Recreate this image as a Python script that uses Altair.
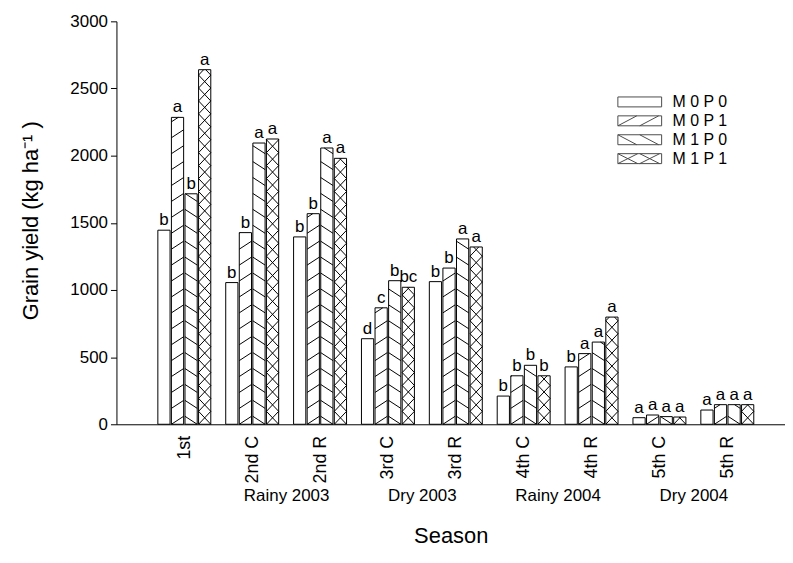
import json
import altair as alt
import pandas as pd

# ---------------- data ----------------
seasons = ["1st", "2nd C", "2nd R", "3rd C", "3rd R", "4th C", "4th R", "5th C", "5th R"]
season_groups = ["Rainy 2003", "Dry 2003", "Rainy 2004", "Dry 2004"]
treatments = ["M 0 P 0", "M 0 P 1", "M 1 P 0", "M 1 P 1"]

m0p0 = [1445, 1055, 1395, 637, 1062, 210, 427, 49, 106]
m0p1 = [2285, 1427, 1568, 867, 1163, 361, 526, 69, 146]
m1p0 = [1716, 2094, 2057, 1069, 1380, 439, 612, 57, 146]
m1p1 = [2640, 2124, 1980, 1020, 1320, 361, 798, 54, 146]

let_m0p0 = ["b", "b", "b", "d", "b", "b", "b", "a", "a"]
let_m0p1 = ["a", "b", "b", "c", "b", "b", "a", "a", "a"]
let_m1p0 = ["b", "a", "a", "b", "a", "b", "a", "a", "a"]
let_m1p1 = ["a", "a", "a", "bc", "a", "b", "a", "a", "a"]

values = [m0p0, m0p1, m1p0, m1p1]
letters = [let_m0p0, let_m0p1, let_m1p0, let_m1p1]

# ---------------- geometry / style ----------------
FONT = "Liberation Sans, Arial, Helvetica, sans-serif"
W, H = 672, 405
XDOM = [-1, 8.85]
YDOM = [0, 3000]
UPX = (YDOM[1] - YDOM[0]) / H          # data units per pixel (y)
PITCH, BARW = 0.2, 0.18                 # bar pitch / width in group units

# hatch definitions: (spacing px, rise px, up?)
hatch_def = {
    "M 0 P 0": [],
    "M 0 P 1": [(16, 8, True)],
    "M 1 P 0": [(16, 8, False)],
    "M 1 P 1": [(13, 13, True), (13, 13, False)],
}


def hatch(L, R, v, sp_px, ri_px, up):
    sp = sp_px * UPX
    ri = ri_px * UPX
    rows = []
    k = -int(ri // sp) - 1
    while k * sp <= v:
        y0 = k * sp
        if up:
            ta = max(0.0, -y0 / ri)
            tb = min(1.0, (v - y0) / ri)
            ya, yb = y0 + ta * ri, y0 + tb * ri
        else:
            ta = max(0.0, 1 - (v - y0) / ri)
            tb = min(1.0, 1 + y0 / ri)
            ya, yb = y0 + ri * (1 - ta), y0 + ri * (1 - tb)
        if tb - ta > 1e-6:
            rows.append(dict(x=L + ta * (R - L), y=ya, x2=L + tb * (R - L), y2=yb))
        k += 1
    return rows


bar_rows, hatch_rows = [], []
for g, season in enumerate(seasons):
    for s, tr in enumerate(treatments):
        v = values[s][g]
        left = g - 0.4 + s * PITCH + (PITCH - BARW) / 2
        right = left + BARW
        bar_rows.append(dict(season=season, treatment=tr, value=v, letter=letters[s][g],
                             x=left, x2=right, xc=(left + right) / 2))
        for sp_px, ri_px, up in hatch_def[tr]:
            hatch_rows.extend(hatch(left, right, v, sp_px, ri_px, up))

bar_df = pd.DataFrame(bar_rows)
hatch_df = pd.DataFrame(hatch_rows)

# legend symbols (custom SVG paths, unit = half symbol height)
RECT = "M-4.4,-1H4.4V1H-4.4Z"
legend_paths = [
    RECT,
    RECT + "M-4.4,1L-0.6,-1M0,1L3.8,-1",
    RECT + "M-4.4,-1L-0.6,1M0,-1L3.8,1",
    RECT + "M-4.4,-1L-0.4,1M-4.4,1L-0.4,-1M0,-1L4,1M0,1L4,-1",
]

xscale = alt.Scale(domain=XDOM, nice=False, zero=False)
yscale = alt.Scale(domain=YDOM, nice=False, zero=False)

season_axis = alt.Axis(
    values=list(range(len(seasons))),
    labelExpr=json.dumps(seasons).replace('"', "'") + "[datum.value]",
    labelAngle=270, labelAlign="right", labelBaseline="middle",
    ticks=False, tickSize=0, labelPadding=11,
    domainColor="black", domainWidth=1,
    labelFont=FONT, labelFontSize=18, labelColor="black",
    labelFlush=False, labelOverlap=False, labelBound=False,
    grid=False, title=None,
)

group_axis = alt.Axis(
    orient="bottom",
    values=[1.5, 3.5, 5.5, 7.5],
    labelExpr=json.dumps(season_groups).replace('"', "'") + "[floor(datum.value/2)]",
    labelAngle=0, labelAlign="center", labelBaseline="middle",
    ticks=False, tickSize=0, domain=False, labelPadding=72,
    labelFont=FONT, labelFontSize=17, labelColor="black",
    labelFlush=False, labelOverlap=False, labelBound=False,
    grid=False,
    title="Season", titleFont=FONT, titleFontSize=22, titleFontWeight="normal",
    titleColor="black", titleY=112, titleBaseline="middle",
)

y_axis = alt.Axis(
    values=list(range(0, 3001, 500)), format="d",
    tickSize=6, tickColor="black", labelPadding=3,
    domainColor="black", labelFont=FONT, labelFontSize=17, labelColor="black",
    grid=False,
    title="Grain yield (kg ha\u207b\u00b9 )", titleFont=FONT, titleFontSize=22,
    titleFontWeight="normal", titleColor="black",
    titleX=-86, titleY=200, titleAngle=270, titleAlign="center", titleBaseline="middle",
)

bars = alt.Chart(bar_df).mark_rect(fill="white", stroke="black", strokeWidth=1).encode(
    x=alt.X("x:Q", scale=xscale, axis=season_axis),
    x2="x2:Q",
    y=alt.Y("value:Q", scale=yscale, axis=y_axis),
    y2=alt.datum(0),
)

hatches = alt.Chart(hatch_df).mark_rule(color="black", strokeWidth=1).encode(
    x=alt.X("x:Q", scale=xscale, axis=None),
    x2="x2:Q",
    y=alt.Y("y:Q", scale=yscale, axis=None),
    y2="y2:Q",
)

labels = alt.Chart(bar_df).mark_text(
    baseline="bottom", align="center", dy=-1, font=FONT, fontSize=17, color="black"
).encode(
    x=alt.X("xc:Q", scale=xscale, axis=None),
    y=alt.Y("value:Q", scale=yscale, axis=None),
    text="letter:N",
)

legend_layer = alt.Chart(bar_df).transform_filter("false").mark_point(
    color="black", filled=False, strokeWidth=1
).encode(
    x=alt.X("xc:Q", scale=xscale, axis=group_axis),
    y=alt.Y("value:Q", scale=yscale, axis=None),
    shape=alt.Shape(
        "treatment:N",
        scale=alt.Scale(domain=treatments, range=legend_paths),
        legend=alt.Legend(
            title=None, orient="none", legendX=518, legendY=73,
            symbolSize=100, symbolStrokeWidth=1, symbolStrokeColor="black",
            symbolFillColor="white", labelFont=FONT, labelFontSize=16,
            labelColor="black", labelOffset=25, rowPadding=3, padding=0,
        ),
    ),
)

chart = (
    alt.layer(bars, hatches, labels, legend_layer)
    .resolve_axis(x="independent", y="independent")
    .properties(
        width=W, height=H,
        autosize=alt.AutoSizeParams(type="none"),
        padding={"left": 109, "top": 12, "right": 0, "bottom": 132},
    )
    .configure_view(stroke=None)
    .configure_axis(grid=False)
)

chart.save("out.html", embed_options={"renderer": "svg", "actions": False})
